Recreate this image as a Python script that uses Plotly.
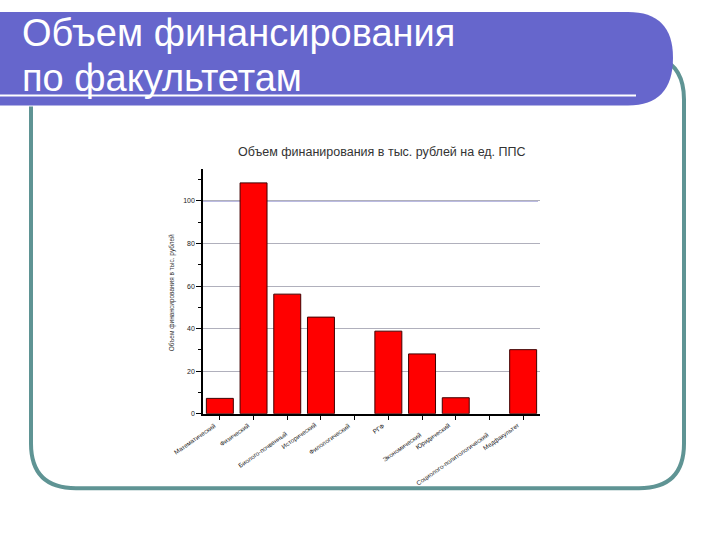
import plotly.graph_objects as go

categories = ["Математический", "Физический", "Биолого-почвенный", "Исторический",
              "Филологический", "РГФ", "Экономический", "Юридический",
              "Социолого-политологический", "Медфакультет"]
values = [7.2, 108.5, 56.2, 45.4, None, 38.8, 28.1, 7.5, None, 30.1]
lower_row = [False, False, True, False, False, False, True, False, True, False]
y_ticks = [0, 20, 40, 60, 80, 100]
slide_title_1 = "Объем финансирования"
slide_title_2 = "по факультетам"
chart_title = "Объем финанирования в тыс. рублей на ед. ППС"
y_title = "Объем финансирования в тыс. рублей"

W, H = 720, 540
def px(x):
    return x / W
def py(y):
    return 1 - y / H

fig = go.Figure()
fig.add_trace(go.Bar(
    x=categories, y=values,
    marker=dict(color="#FF0000", line=dict(color="#400000", width=1)),
    width=0.8,
))

shapes = []
shapes.append(dict(type="path", xref="paper", yref="paper", layer="below",
    path=(f"M {px(31)},{py(107)} L {px(31)},{py(446)} "
          f"Q {px(31)},{py(491)} {px(76)},{py(491)} L {px(639)},{py(491)} "
          f"Q {px(684)},{py(491)} {px(684)},{py(446)} L {px(684)},{py(100)} "
          f"Q {px(684)},{py(68)} {px(660)},{py(58)}"),
    line=dict(color="#5F9494", width=4)))
shapes.append(dict(type="path", xref="paper", yref="paper", layer="below",
    path=(f"M {px(0)},{py(12)} L {px(628)},{py(12)} "
          f"Q {px(673)},{py(12)} {px(673)},{py(58)} "
          f"Q {px(673)},{py(106)} {px(628)},{py(106)} L {px(0)},{py(106)} Z"),
    fillcolor="#6666CC", line=dict(width=0)))
shapes.append(dict(type="line", xref="paper", yref="paper", layer="below",
    x0=px(0), x1=px(636), y0=py(96), y1=py(96),
    line=dict(color="white", width=2)))
for v in [80, 100]:
    shapes.append(dict(type="line", xref="paper", yref="y", layer="below",
        x0=px(203), x1=px(538), y0=v, y1=v,
        line=dict(color="#6A6AC0", width=1)))

title_font = dict(family="Liberation Sans, Arial", size=38, color="white")
annotations = [
    dict(text=slide_title_1, xref="paper", yref="paper", x=px(20), y=py(33),
         xanchor="left", yanchor="middle", showarrow=False, font=title_font),
    dict(text=slide_title_2, xref="paper", yref="paper", x=px(20), y=py(78),
         xanchor="left", yanchor="middle", showarrow=False, font=title_font),
    dict(text=chart_title, xref="paper", yref="paper", x=px(382), y=py(153),
         xanchor="center", yanchor="middle", showarrow=False,
         font=dict(family="Liberation Sans, Arial", size=12.5, color="#333333")),
    dict(text=y_title, xref="paper", yref="paper", x=px(172), y=py(295),
         xanchor="center", yanchor="middle", showarrow=False, textangle=-90,
         font=dict(family="Liberation Sans, Arial", size=6.5, color="#333333")),
]
for cat, low in zip(categories, lower_row):
    annotations.append(dict(text=cat, xref="x", yref="paper", x=cat, y=py(421),
        xanchor="right", yanchor="top", showarrow=False, textangle=-35,
        yshift=-9 if low else 0, xshift=4 if low else 0,
        font=dict(family="Liberation Sans, Arial", size=6.3, color="#222222")))

fig.update_layout(
    width=W, height=H,
    margin=dict(l=0, r=0, t=0, b=0),
    paper_bgcolor="white", plot_bgcolor="white",
    showlegend=False, bargap=0.2,
    shapes=shapes, annotations=annotations,
    xaxis=dict(domain=[px(203), px(540)], showticklabels=False,
               ticks="outside", ticklen=5, tickcolor="#000",
               showline=True, linecolor="#000", linewidth=1.5,
               showgrid=False, range=[-0.5, 9.5]),
    yaxis=dict(domain=[py(416), py(170)], range=[0, 115],
               tickvals=y_ticks, ticks="outside", ticklen=5, tickcolor="#000",
               tickfont=dict(family="Liberation Sans, Arial", size=7, color="#222"),
               showline=True, linecolor="#000", linewidth=1.5,
               showgrid=True, gridcolor="#B0B0BC", gridwidth=1,
               zeroline=False,
               minor=dict(dtick=10, ticks="outside", ticklen=3, tickcolor="#000", showgrid=False)),
)

fig.write_html("out.html", config={"displayModeBar": False},
               post_script="document.body.style.margin='0';")
